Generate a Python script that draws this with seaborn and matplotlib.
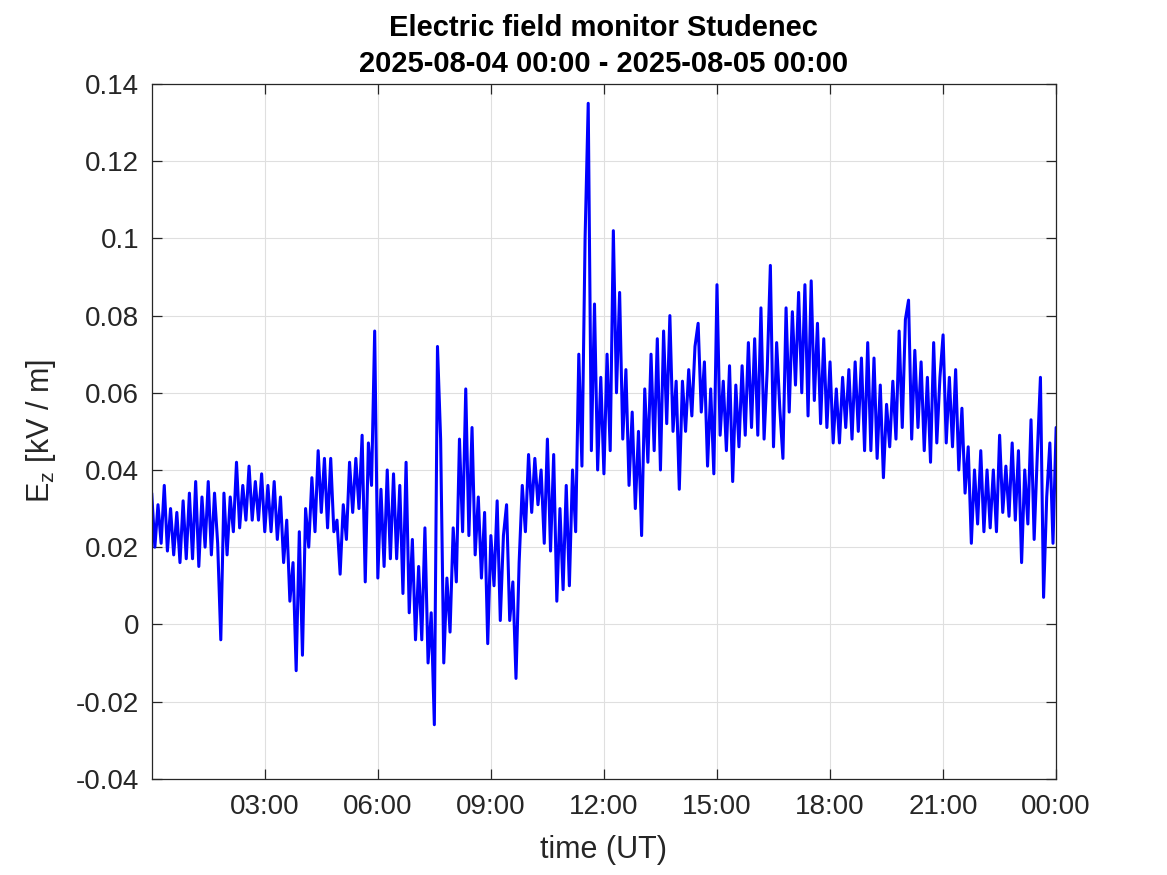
import matplotlib
matplotlib.use("Agg")
import matplotlib.pyplot as plt
import matplotlib.dates as mdates
from matplotlib.ticker import FuncFormatter
import pandas as pd
import seaborn as sns

# vertical field Ez [kV/m], 5-minute samples, one row per hour
ez = [
    0.034, 0.020, 0.031, 0.021, 0.036, 0.019, 0.030, 0.018, 0.029, 0.016, 0.032, 0.017,   # 00
    0.034, 0.017, 0.037, 0.015, 0.033, 0.020, 0.037, 0.018, 0.034, 0.021, -0.004, 0.034,  # 01
    0.018, 0.033, 0.024, 0.042, 0.025, 0.036, 0.027, 0.041, 0.027, 0.037, 0.027, 0.039,   # 02
    0.024, 0.036, 0.024, 0.037, 0.022, 0.033, 0.016, 0.027, 0.006, 0.016, -0.012, 0.024,  # 03
    -0.008, 0.030, 0.020, 0.038, 0.024, 0.045, 0.029, 0.043, 0.025, 0.043, 0.024, 0.027,  # 04
    0.013, 0.031, 0.022, 0.042, 0.029, 0.043, 0.030, 0.049, 0.011, 0.047, 0.036, 0.076,   # 05
    0.012, 0.035, 0.015, 0.040, 0.017, 0.039, 0.017, 0.036, 0.008, 0.042, 0.003, 0.022,   # 06
    -0.004, 0.015, -0.004, 0.025, -0.010, 0.003, -0.026, 0.072, 0.048, -0.010, 0.012, -0.002,  # 07
    0.025, 0.011, 0.048, 0.024, 0.061, 0.023, 0.051, 0.018, 0.033, 0.012, 0.029, -0.005,  # 08
    0.023, 0.010, 0.032, 0.001, 0.023, 0.031, 0.001, 0.011, -0.014, 0.016, 0.036, 0.024,  # 09
    0.044, 0.029, 0.043, 0.031, 0.040, 0.021, 0.048, 0.019, 0.044, 0.006, 0.030, 0.009,   # 10
    0.036, 0.010, 0.040, 0.024, 0.070, 0.041, 0.100, 0.135, 0.045, 0.083, 0.040, 0.064,   # 11
    0.039, 0.070, 0.045, 0.102, 0.060, 0.086, 0.048, 0.066, 0.036, 0.055, 0.030, 0.050,   # 12
    0.023, 0.061, 0.042, 0.070, 0.045, 0.074, 0.040, 0.076, 0.052, 0.080, 0.050, 0.063,   # 13
    0.035, 0.063, 0.050, 0.066, 0.054, 0.072, 0.078, 0.055, 0.068, 0.041, 0.061, 0.039,   # 14
    0.088, 0.049, 0.063, 0.045, 0.067, 0.037, 0.062, 0.046, 0.067, 0.049, 0.073, 0.051,   # 15
    0.074, 0.049, 0.082, 0.048, 0.066, 0.093, 0.046, 0.073, 0.056, 0.043, 0.082, 0.055,   # 16
    0.081, 0.062, 0.086, 0.060, 0.088, 0.054, 0.089, 0.058, 0.078, 0.052, 0.074, 0.051,   # 17
    0.068, 0.047, 0.061, 0.047, 0.064, 0.051, 0.066, 0.048, 0.068, 0.050, 0.069, 0.045,   # 18
    0.073, 0.045, 0.069, 0.043, 0.062, 0.038, 0.057, 0.046, 0.063, 0.048, 0.076, 0.051,   # 19
    0.079, 0.084, 0.048, 0.071, 0.051, 0.068, 0.045, 0.064, 0.042, 0.073, 0.047, 0.064,   # 20
    0.075, 0.047, 0.064, 0.046, 0.066, 0.040, 0.056, 0.034, 0.046, 0.021, 0.040, 0.026,   # 21
    0.045, 0.024, 0.040, 0.025, 0.040, 0.024, 0.049, 0.029, 0.041, 0.028, 0.047, 0.027,   # 22
    0.045, 0.016, 0.040, 0.026, 0.053, 0.022, 0.044, 0.064, 0.007, 0.033, 0.047, 0.021,   # 23
    0.051,                                                                                # 24
]
start = "2025-08-04 00:00"
end = "2025-08-05 00:00"
yticks = [-0.04, -0.02, 0, 0.02, 0.04, 0.06, 0.08, 0.1, 0.12, 0.14]
xtick_hours = [3, 6, 9, 12, 15, 18, 21, 24]

times = pd.date_range(start, periods=len(ez), freq="5min")
df = pd.DataFrame({"time": times, "Ez": ez})

sns.set_style("ticks")
plt.rcParams["font.family"] = ["Liberation Sans", "DejaVu Sans"]
plt.rcParams["axes.unicode_minus"] = False
plt.rcParams["mathtext.fontset"] = "custom"
plt.rcParams["mathtext.rm"] = "Liberation Sans"

txt = "#262626"
fig = plt.figure(figsize=(11.67, 8.75), dpi=100)
ax = fig.add_axes([0.13, 0.11, 0.775, 0.794])

sns.lineplot(data=df, x="time", y="Ez", color="#0000ff", linewidth=2.2,
             estimator=None, ax=ax)

ax.set_xlim(pd.Timestamp(start), pd.Timestamp(end))
ax.set_ylim(yticks[0], yticks[-1])
ax.set_yticks(yticks)
ax.yaxis.set_major_formatter(FuncFormatter(lambda v, p: "%g" % round(v, 3)))
ax.set_xticks([pd.Timestamp(start) + pd.Timedelta(hours=h) for h in xtick_hours])
ax.xaxis.set_major_formatter(mdates.DateFormatter("%H:%M"))

ax.grid(True, color="#dfdfdf", linewidth=0.8)
ax.set_axisbelow(True)
for s in ax.spines.values():
    s.set_visible(True)
    s.set_color(txt)
    s.set_linewidth(0.9)
ax.tick_params(direction="in", length=7, width=0.9, top=True, right=True,
               labelsize=20, colors=txt)
ax.tick_params(axis="x", pad=11)
ax.tick_params(axis="y", pad=9)

ax.set_xlabel("time (UT)", fontsize=22, color=txt, labelpad=11)
ax.set_ylabel(r"E$_\mathregular{z}$ [kV / m]", fontsize=22, color=txt, labelpad=13)
ax.set_title("Electric field monitor Studenec\n" + start + " - " + end,
             fontsize=21, fontweight="bold", color="black", linespacing=1.35, pad=9)

fig.savefig("out.png", dpi=100)
